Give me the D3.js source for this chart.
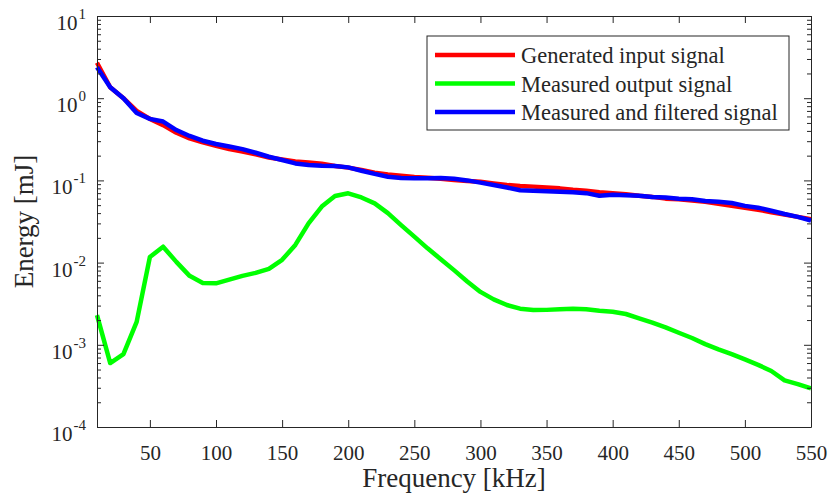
<!DOCTYPE html>
<html>
<head>
<meta charset="utf-8">
<script src="https://cdn.jsdelivr.net/npm/d3@7"></script>
<style>
  body { margin: 0; background: #fff; }
  svg { display: block; }
  .axis path, .axis line { stroke: #262626; stroke-width: 1; }
  text { font-family: "Liberation Serif", "Times New Roman", serif; fill: #262626; }
</style>
</head>
<body>
<svg id="chart" width="832" height="499"></svg>
<script>
// frequencies [kHz]
const freq = [10, 20, 30, 40, 50, 60, 70, 80, 90, 100, 110, 120, 130, 140, 150, 160, 170, 180, 190, 200,
  210, 220, 230, 240, 250, 260, 270, 280, 290, 300, 310, 320, 330, 340, 350, 360, 370, 380, 390, 400,
  410, 420, 430, 440, 450, 460, 470, 480, 490, 500, 510, 520, 530, 540, 550];

// energy [mJ]
const generatedInput = [2.7, 1.36, 1.0, 0.70, 0.56, 0.47, 0.38, 0.325, 0.29, 0.264, 0.24, 0.225, 0.207, 0.19, 0.18,
  0.17, 0.165, 0.159, 0.15, 0.143, 0.134, 0.124, 0.118, 0.114, 0.11, 0.108, 0.105, 0.101, 0.098, 0.096,
  0.092, 0.088, 0.0855, 0.084, 0.082, 0.08, 0.077, 0.075, 0.072, 0.070, 0.068, 0.065, 0.063, 0.06, 0.059,
  0.057, 0.055, 0.052, 0.049, 0.0466, 0.044, 0.041, 0.0385, 0.036, 0.0336];

const measuredOutput = [0.0023, 0.0006, 0.00077, 0.0019, 0.0117, 0.0156, 0.0102, 0.0069, 0.00565, 0.0056,
  0.0062, 0.0069, 0.0075, 0.0084, 0.0108, 0.0164, 0.030, 0.048, 0.0646, 0.0697, 0.062, 0.0526, 0.040,
  0.0286, 0.0207, 0.0149, 0.0110, 0.0081, 0.0059, 0.0044, 0.00357, 0.00305, 0.00275, 0.00265, 0.00266,
  0.0027, 0.00275, 0.0027, 0.0026, 0.00253, 0.00237, 0.0021, 0.00186, 0.00163, 0.0014, 0.00121, 0.00102,
  0.00088, 0.00077, 0.000665, 0.00057, 0.00048, 0.00037, 0.000333, 0.000295];

const measuredFiltered = [2.38, 1.36, 1.0, 0.66, 0.56, 0.52, 0.41, 0.347, 0.304, 0.277, 0.258, 0.24, 0.217,
  0.194, 0.177, 0.161, 0.154, 0.151, 0.15, 0.144, 0.131, 0.12, 0.111, 0.107, 0.106, 0.106, 0.107, 0.105,
  0.1, 0.094, 0.088, 0.082, 0.076, 0.075, 0.074, 0.073, 0.0716, 0.070, 0.065, 0.067, 0.066, 0.065, 0.063,
  0.062, 0.06, 0.059, 0.056, 0.055, 0.053, 0.049, 0.0466, 0.0428, 0.039, 0.036, 0.0325];

const seriesNames = ['Generated input signal', 'Measured output signal', 'Measured and filtered signal'];
const seriesColors = ['#ff0000', '#00ff00', '#0000ff'];

const xTicks = [50, 100, 150, 200, 250, 300, 350, 400, 450, 500, 550];
const yExponents = [-4, -3, -2, -1, 0, 1];

// layout
const margin = { top: 16, right: 21, bottom: 72, left: 97 };
const W = 832, H = 499;
const width = W - margin.left - margin.right;
const height = H - margin.top - margin.bottom;

const svg = d3.select('#chart');
const g = svg.append('g').attr('transform', `translate(${margin.left},${margin.top})`);

const x = d3.scaleLinear().domain([10, 550]).range([0, width]);
const y = d3.scaleLog().domain([1e-4, 1e1]).range([height, 0]);

// minor log ticks 2..9 x 10^k
const majorY = yExponents.map(e => Math.pow(10, e));
const minorY = [];
yExponents.slice(0, -1).forEach(e => {
  for (let m = 2; m <= 9; m++) minorY.push(m * Math.pow(10, e));
});

// lines
const line = d3.line()
  .x((d, i) => x(freq[i]))
  .y(d => y(d));

const allSeries = [generatedInput, measuredOutput, measuredFiltered];
g.append('g').selectAll('path')
  .data(allSeries)
  .enter().append('path')
  .attr('d', line)
  .attr('fill', 'none')
  .attr('stroke', (d, i) => seriesColors[i])
  .attr('stroke-width', 4.5)
  .attr('stroke-linejoin', 'round');

// axes (ticks inside, box on)
const tickLen = 7, minorLen = 4;

g.append('g').attr('class', 'axis x-bottom')
  .attr('transform', `translate(0,${height})`)
  .call(d3.axisBottom(x).tickValues(xTicks).tickSize(-tickLen).tickSizeOuter(0).tickPadding(18))
  .call(s => s.selectAll('text').attr('font-size', 21).style('font-family', '"Liberation Serif", serif').attr('fill', '#262626'));

g.append('g').attr('class', 'axis x-top')
  .call(d3.axisTop(x).tickValues(xTicks).tickSize(-tickLen).tickSizeOuter(0).tickFormat(''));

g.append('g').attr('class', 'axis y-left')
  .call(d3.axisLeft(y).tickValues(majorY).tickSize(-tickLen).tickSizeOuter(0).tickFormat(''));
g.append('g').attr('class', 'axis y-left-minor')
  .call(d3.axisLeft(y).tickValues(minorY).tickSize(-minorLen).tickSizeOuter(0).tickFormat(''))
  .call(s => s.select('.domain').remove());

g.append('g').attr('class', 'axis y-right')
  .attr('transform', `translate(${width},0)`)
  .call(d3.axisRight(y).tickValues(majorY).tickSize(-tickLen).tickSizeOuter(0).tickFormat(''));
g.append('g').attr('class', 'axis y-right-minor')
  .attr('transform', `translate(${width},0)`)
  .call(d3.axisRight(y).tickValues(minorY).tickSize(-minorLen).tickSizeOuter(0).tickFormat(''))
  .call(s => s.select('.domain').remove());

// y tick labels: 10^k
const yLabels = g.append('g').selectAll('text')
  .data(yExponents)
  .enter().append('text')
  .attr('x', -11)
  .attr('y', e => y(Math.pow(10, e)) + 14)
  .attr('text-anchor', 'end')
  .attr('font-size', 21);
yLabels.append('tspan').text('10');
yLabels.append('tspan')
  .attr('dy', -11)
  .attr('dx', 1)
  .attr('font-size', 15)
  .text(e => String(e));

// axis titles
g.append('text')
  .attr('x', width / 2)
  .attr('y', 471)
  .attr('text-anchor', 'middle')
  .attr('font-size', 27)
  .text('Frequency [kHz]');

g.append('text')
  .attr('transform', `translate(${33 - margin.left},${height / 2}) rotate(-90)`)
  .attr('text-anchor', 'middle')
  .attr('font-size', 27)
  .text('Energy [mJ]');

// legend
const legend = svg.append('g').attr('transform', 'translate(427,36)');
legend.append('rect')
  .attr('width', 362).attr('height', 94)
  .attr('fill', '#fff').attr('stroke', '#262626').attr('stroke-width', 1);
const rows = legend.selectAll('g.row')
  .data(seriesNames)
  .enter().append('g')
  .attr('class', 'row')
  .attr('transform', (d, i) => `translate(0,${19 + i * 28.5})`);
rows.append('line')
  .attr('x1', 8).attr('x2', 88)
  .attr('stroke', (d, i) => seriesColors[i])
  .attr('stroke-width', 4.5);
rows.append('text')
  .attr('x', 94).attr('y', 8)
  .attr('font-size', 22.5)
  .attr('fill', '#000')
  .text(d => d);
</script>
</body>
</html>
